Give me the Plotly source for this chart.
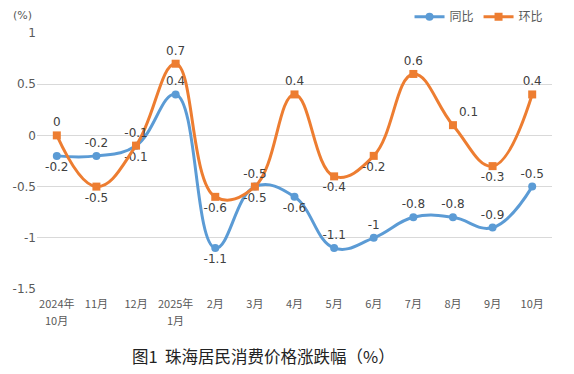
import plotly.graph_objects as go

categories = ["2024年10月", "11月", "12月", "2025年1月", "2月", "3月", "4月",
              "5月", "6月", "7月", "8月", "9月", "10月"]
tick_top = ["2024年", "11月", "12月", "2025年", "2月", "3月", "4月",
            "5月", "6月", "7月", "8月", "9月", "10月"]
tick_bottom = ["10月", "", "", "1月", "", "", "", "", "", "", "", "", ""]
yoy = [-0.2, -0.2, -0.1, 0.4, -1.1, -0.5, -0.6, -1.1, -1.0, -0.8, -0.8, -0.9, -0.5]
mom = [0.0, -0.5, -0.1, 0.7, -0.6, -0.5, 0.4, -0.4, -0.2, 0.6, 0.1, -0.3, 0.4]
y_ticks = [1, 0.5, 0, -0.5, -1, -1.5]

yoy_pos = ["bottom center", "top center", "bottom center", "top center", "bottom center",
           "bottom center", "bottom center", "top center", "top center", "top center",
           "top center", "top center", "top center"]
mom_pos = ["top center", "bottom center", "top center", "top center", "bottom center",
           "top center", "top center", "bottom center", "bottom center", "top center",
           "top right", "bottom center", "top center"]

def fmt(v):
    return ("%g" % v)

blue = "#5B9BD5"
orange = "#ED7D31"

fig = go.Figure()
fig.add_trace(go.Scatter(
    x=categories, y=yoy, name="同比", mode="lines+markers+text",
    line=dict(color=blue, width=3, shape="spline", smoothing=1.2),
    marker=dict(symbol="circle", size=8, color=blue),
    text=[fmt(v) for v in yoy], textposition=yoy_pos,
    textfont=dict(size=12, color="#404040", family="DejaVu Sans"),
))
fig.add_trace(go.Scatter(
    x=categories, y=mom, name="环比", mode="lines+markers+text",
    line=dict(color=orange, width=3, shape="spline", smoothing=1.2),
    marker=dict(symbol="square", size=8, color=orange),
    text=[fmt(v) for v in mom], textposition=mom_pos,
    textfont=dict(size=12, color="#404040", family="DejaVu Sans"),
))

annotations = [
    dict(text="(%)", xref="paper", yref="paper", x=-0.029, y=1.07,
         xanchor="center", yanchor="middle", showarrow=False,
         font=dict(size=11, color="#595959", family="DejaVu Sans")),
    dict(text="图1  珠海居民消费价格涨跌幅（%）", xref="paper", yref="paper",
         x=0.439, y=-0.262, xanchor="center", yanchor="middle", showarrow=False,
         font=dict(size=16.5, color="#222222", family="Noto Sans CJK SC")),
]
for c, t in zip(categories, tick_bottom):
    if t:
        annotations.append(dict(text=t, x=c, xref="x", yref="paper", y=-0.121,
                                xanchor="center", yanchor="middle", showarrow=False,
                                font=dict(size=11, color="#595959",
                                          family="Noto Sans CJK SC, DejaVu Sans")))

fig.update_layout(
    width=566, height=366,
    margin=dict(l=29, r=22, t=25, b=85, autoexpand=False),
    plot_bgcolor="white", paper_bgcolor="white",
    font=dict(family="Noto Sans CJK SC, DejaVu Sans", size=12, color="#595959"),
    showlegend=True,
    legend=dict(orientation="h", xref="container", yref="container",
                x=0.955, xanchor="right", y=0.976, yanchor="middle",
                font=dict(size=12, color="#595959"), bgcolor="rgba(0,0,0,0)",
                itemwidth=30, tracegroupgap=0),
    xaxis=dict(type="category", range=[-0.5, 12.5], showgrid=False, showline=False,
               tickvals=categories, ticktext=tick_top,
               ticks="", ticklabelstandoff=7,
               tickfont=dict(size=11, color="#595959",
                             family="Noto Sans CJK SC, DejaVu Sans"),
               tickangle=0, automargin=False),
    yaxis=dict(range=[-1.5, 1.0], tickvals=y_ticks, ticktext=[fmt(v) for v in y_ticks],
               showgrid=True, gridcolor="#D9D9D9", gridwidth=1, zeroline=False,
               showline=False, ticks="", automargin=False,
               tickfont=dict(size=12, color="#595959", family="DejaVu Sans")),
    annotations=annotations,
)

fig.write_html("out.html")
